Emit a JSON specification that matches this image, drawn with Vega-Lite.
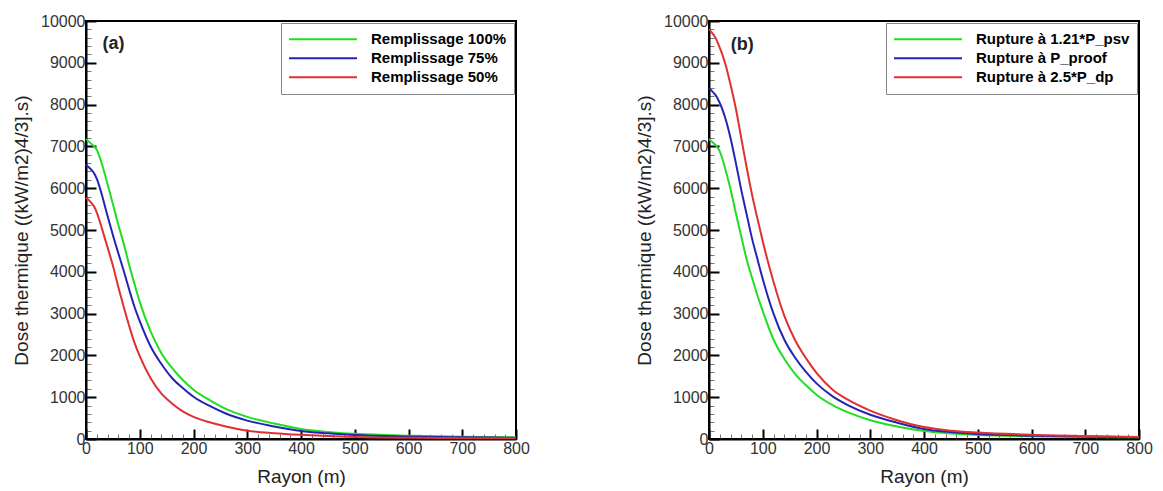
{
  "$schema": "https://vega.github.io/schema/vega-lite/v6.json",
  "background": "white",
  "padding": {"left": 11, "top": 12, "right": 5, "bottom": 5},
  "spacing": 103,
  "datasets": {
    "a": [
      {"serie": "Remplissage 100%", "r": 0, "v": 7180}, {"serie": "Remplissage 100%", "r": 5, "v": 7120}, {"serie": "Remplissage 100%", "r": 10, "v": 7060}, {"serie": "Remplissage 100%", "r": 15, "v": 7000}, {"serie": "Remplissage 100%", "r": 20, "v": 6920}, {"serie": "Remplissage 100%", "r": 25, "v": 6760}, {"serie": "Remplissage 100%", "r": 30, "v": 6560}, {"serie": "Remplissage 100%", "r": 40, "v": 6100}, {"serie": "Remplissage 100%", "r": 50, "v": 5620}, {"serie": "Remplissage 100%", "r": 60, "v": 5130}, {"serie": "Remplissage 100%", "r": 70, "v": 4680}, {"serie": "Remplissage 100%", "r": 80, "v": 4180}, {"serie": "Remplissage 100%", "r": 90, "v": 3720}, {"serie": "Remplissage 100%", "r": 100, "v": 3280}, {"serie": "Remplissage 100%", "r": 120, "v": 2580}, {"serie": "Remplissage 100%", "r": 140, "v": 2060}, {"serie": "Remplissage 100%", "r": 160, "v": 1700}, {"serie": "Remplissage 100%", "r": 180, "v": 1410}, {"serie": "Remplissage 100%", "r": 200, "v": 1180}, {"serie": "Remplissage 100%", "r": 230, "v": 930}, {"serie": "Remplissage 100%", "r": 260, "v": 720}, {"serie": "Remplissage 100%", "r": 300, "v": 530}, {"serie": "Remplissage 100%", "r": 350, "v": 370}, {"serie": "Remplissage 100%", "r": 400, "v": 240}, {"serie": "Remplissage 100%", "r": 450, "v": 170}, {"serie": "Remplissage 100%", "r": 500, "v": 125}, {"serie": "Remplissage 100%", "r": 600, "v": 80}, {"serie": "Remplissage 100%", "r": 700, "v": 55}, {"serie": "Remplissage 100%", "r": 800, "v": 40},
      {"serie": "Remplissage 75%", "r": 0, "v": 6560}, {"serie": "Remplissage 75%", "r": 5, "v": 6500}, {"serie": "Remplissage 75%", "r": 10, "v": 6440}, {"serie": "Remplissage 75%", "r": 15, "v": 6360}, {"serie": "Remplissage 75%", "r": 20, "v": 6230}, {"serie": "Remplissage 75%", "r": 25, "v": 6040}, {"serie": "Remplissage 75%", "r": 30, "v": 5820}, {"serie": "Remplissage 75%", "r": 40, "v": 5340}, {"serie": "Remplissage 75%", "r": 50, "v": 4880}, {"serie": "Remplissage 75%", "r": 60, "v": 4450}, {"serie": "Remplissage 75%", "r": 70, "v": 4030}, {"serie": "Remplissage 75%", "r": 80, "v": 3590}, {"serie": "Remplissage 75%", "r": 90, "v": 3170}, {"serie": "Remplissage 75%", "r": 100, "v": 2820}, {"serie": "Remplissage 75%", "r": 120, "v": 2220}, {"serie": "Remplissage 75%", "r": 140, "v": 1800}, {"serie": "Remplissage 75%", "r": 160, "v": 1460}, {"serie": "Remplissage 75%", "r": 180, "v": 1220}, {"serie": "Remplissage 75%", "r": 200, "v": 1010}, {"serie": "Remplissage 75%", "r": 230, "v": 790}, {"serie": "Remplissage 75%", "r": 260, "v": 610}, {"serie": "Remplissage 75%", "r": 300, "v": 440}, {"serie": "Remplissage 75%", "r": 350, "v": 300}, {"serie": "Remplissage 75%", "r": 400, "v": 190}, {"serie": "Remplissage 75%", "r": 450, "v": 135}, {"serie": "Remplissage 75%", "r": 500, "v": 95}, {"serie": "Remplissage 75%", "r": 600, "v": 60}, {"serie": "Remplissage 75%", "r": 700, "v": 40}, {"serie": "Remplissage 75%", "r": 800, "v": 30},
      {"serie": "Remplissage 50%", "r": 0, "v": 5770}, {"serie": "Remplissage 50%", "r": 5, "v": 5720}, {"serie": "Remplissage 50%", "r": 10, "v": 5650}, {"serie": "Remplissage 50%", "r": 15, "v": 5560}, {"serie": "Remplissage 50%", "r": 20, "v": 5420}, {"serie": "Remplissage 50%", "r": 25, "v": 5230}, {"serie": "Remplissage 50%", "r": 30, "v": 5020}, {"serie": "Remplissage 50%", "r": 40, "v": 4590}, {"serie": "Remplissage 50%", "r": 50, "v": 4150}, {"serie": "Remplissage 50%", "r": 60, "v": 3640}, {"serie": "Remplissage 50%", "r": 70, "v": 3170}, {"serie": "Remplissage 50%", "r": 80, "v": 2720}, {"serie": "Remplissage 50%", "r": 90, "v": 2310}, {"serie": "Remplissage 50%", "r": 100, "v": 1980}, {"serie": "Remplissage 50%", "r": 120, "v": 1460}, {"serie": "Remplissage 50%", "r": 140, "v": 1090}, {"serie": "Remplissage 50%", "r": 160, "v": 850}, {"serie": "Remplissage 50%", "r": 180, "v": 660}, {"serie": "Remplissage 50%", "r": 200, "v": 530}, {"serie": "Remplissage 50%", "r": 230, "v": 400}, {"serie": "Remplissage 50%", "r": 260, "v": 300}, {"serie": "Remplissage 50%", "r": 300, "v": 200}, {"serie": "Remplissage 50%", "r": 350, "v": 140}, {"serie": "Remplissage 50%", "r": 400, "v": 100}, {"serie": "Remplissage 50%", "r": 450, "v": 70}, {"serie": "Remplissage 50%", "r": 500, "v": 50}, {"serie": "Remplissage 50%", "r": 600, "v": 30}, {"serie": "Remplissage 50%", "r": 700, "v": 20}, {"serie": "Remplissage 50%", "r": 800, "v": 15}
    ],
    "b": [
      {"serie": "Rupture à 1.21*P_psv", "r": 0, "v": 7180}, {"serie": "Rupture à 1.21*P_psv", "r": 5, "v": 7120}, {"serie": "Rupture à 1.21*P_psv", "r": 10, "v": 7060}, {"serie": "Rupture à 1.21*P_psv", "r": 15, "v": 6990}, {"serie": "Rupture à 1.21*P_psv", "r": 20, "v": 6880}, {"serie": "Rupture à 1.21*P_psv", "r": 25, "v": 6700}, {"serie": "Rupture à 1.21*P_psv", "r": 30, "v": 6470}, {"serie": "Rupture à 1.21*P_psv", "r": 40, "v": 5980}, {"serie": "Rupture à 1.21*P_psv", "r": 50, "v": 5400}, {"serie": "Rupture à 1.21*P_psv", "r": 60, "v": 4850}, {"serie": "Rupture à 1.21*P_psv", "r": 70, "v": 4300}, {"serie": "Rupture à 1.21*P_psv", "r": 80, "v": 3860}, {"serie": "Rupture à 1.21*P_psv", "r": 90, "v": 3440}, {"serie": "Rupture à 1.21*P_psv", "r": 100, "v": 3060}, {"serie": "Rupture à 1.21*P_psv", "r": 120, "v": 2380}, {"serie": "Rupture à 1.21*P_psv", "r": 140, "v": 1920}, {"serie": "Rupture à 1.21*P_psv", "r": 160, "v": 1560}, {"serie": "Rupture à 1.21*P_psv", "r": 180, "v": 1290}, {"serie": "Rupture à 1.21*P_psv", "r": 200, "v": 1060}, {"serie": "Rupture à 1.21*P_psv", "r": 230, "v": 810}, {"serie": "Rupture à 1.21*P_psv", "r": 260, "v": 630}, {"serie": "Rupture à 1.21*P_psv", "r": 300, "v": 450}, {"serie": "Rupture à 1.21*P_psv", "r": 350, "v": 300}, {"serie": "Rupture à 1.21*P_psv", "r": 400, "v": 190}, {"serie": "Rupture à 1.21*P_psv", "r": 450, "v": 130}, {"serie": "Rupture à 1.21*P_psv", "r": 500, "v": 95}, {"serie": "Rupture à 1.21*P_psv", "r": 600, "v": 65}, {"serie": "Rupture à 1.21*P_psv", "r": 700, "v": 50}, {"serie": "Rupture à 1.21*P_psv", "r": 800, "v": 40},
      {"serie": "Rupture à P_proof", "r": 0, "v": 8390}, {"serie": "Rupture à P_proof", "r": 5, "v": 8330}, {"serie": "Rupture à P_proof", "r": 10, "v": 8260}, {"serie": "Rupture à P_proof", "r": 15, "v": 8170}, {"serie": "Rupture à P_proof", "r": 20, "v": 8040}, {"serie": "Rupture à P_proof", "r": 25, "v": 7880}, {"serie": "Rupture à P_proof", "r": 30, "v": 7690}, {"serie": "Rupture à P_proof", "r": 40, "v": 7200}, {"serie": "Rupture à P_proof", "r": 50, "v": 6600}, {"serie": "Rupture à P_proof", "r": 60, "v": 5960}, {"serie": "Rupture à P_proof", "r": 70, "v": 5380}, {"serie": "Rupture à P_proof", "r": 80, "v": 4800}, {"serie": "Rupture à P_proof", "r": 90, "v": 4310}, {"serie": "Rupture à P_proof", "r": 100, "v": 3830}, {"serie": "Rupture à P_proof", "r": 120, "v": 3000}, {"serie": "Rupture à P_proof", "r": 140, "v": 2380}, {"serie": "Rupture à P_proof", "r": 160, "v": 1950}, {"serie": "Rupture à P_proof", "r": 180, "v": 1610}, {"serie": "Rupture à P_proof", "r": 200, "v": 1330}, {"serie": "Rupture à P_proof", "r": 230, "v": 1020}, {"serie": "Rupture à P_proof", "r": 260, "v": 800}, {"serie": "Rupture à P_proof", "r": 300, "v": 580}, {"serie": "Rupture à P_proof", "r": 350, "v": 390}, {"serie": "Rupture à P_proof", "r": 400, "v": 240}, {"serie": "Rupture à P_proof", "r": 450, "v": 165}, {"serie": "Rupture à P_proof", "r": 500, "v": 120}, {"serie": "Rupture à P_proof", "r": 600, "v": 80}, {"serie": "Rupture à P_proof", "r": 700, "v": 60}, {"serie": "Rupture à P_proof", "r": 800, "v": 45},
      {"serie": "Rupture à 2.5*P_dp", "r": 0, "v": 9800}, {"serie": "Rupture à 2.5*P_dp", "r": 5, "v": 9730}, {"serie": "Rupture à 2.5*P_dp", "r": 10, "v": 9640}, {"serie": "Rupture à 2.5*P_dp", "r": 15, "v": 9520}, {"serie": "Rupture à 2.5*P_dp", "r": 20, "v": 9360}, {"serie": "Rupture à 2.5*P_dp", "r": 25, "v": 9190}, {"serie": "Rupture à 2.5*P_dp", "r": 30, "v": 8990}, {"serie": "Rupture à 2.5*P_dp", "r": 40, "v": 8480}, {"serie": "Rupture à 2.5*P_dp", "r": 50, "v": 7900}, {"serie": "Rupture à 2.5*P_dp", "r": 60, "v": 7200}, {"serie": "Rupture à 2.5*P_dp", "r": 70, "v": 6500}, {"serie": "Rupture à 2.5*P_dp", "r": 80, "v": 5850}, {"serie": "Rupture à 2.5*P_dp", "r": 90, "v": 5280}, {"serie": "Rupture à 2.5*P_dp", "r": 100, "v": 4730}, {"serie": "Rupture à 2.5*P_dp", "r": 120, "v": 3760}, {"serie": "Rupture à 2.5*P_dp", "r": 140, "v": 2950}, {"serie": "Rupture à 2.5*P_dp", "r": 160, "v": 2370}, {"serie": "Rupture à 2.5*P_dp", "r": 180, "v": 1940}, {"serie": "Rupture à 2.5*P_dp", "r": 200, "v": 1580}, {"serie": "Rupture à 2.5*P_dp", "r": 230, "v": 1180}, {"serie": "Rupture à 2.5*P_dp", "r": 260, "v": 930}, {"serie": "Rupture à 2.5*P_dp", "r": 300, "v": 680}, {"serie": "Rupture à 2.5*P_dp", "r": 350, "v": 450}, {"serie": "Rupture à 2.5*P_dp", "r": 400, "v": 285}, {"serie": "Rupture à 2.5*P_dp", "r": 450, "v": 200}, {"serie": "Rupture à 2.5*P_dp", "r": 500, "v": 155}, {"serie": "Rupture à 2.5*P_dp", "r": 600, "v": 100}, {"serie": "Rupture à 2.5*P_dp", "r": 700, "v": 70}, {"serie": "Rupture à 2.5*P_dp", "r": 800, "v": 50}
    ]
  },
  "config": {
    "font": "Liberation Sans",
    "view": {"stroke": "#000", "strokeWidth": 2},
    "axis": {
      "grid": false,
      "domainColor": "#000",
      "domainWidth": 2,
      "labelFont": "Liberation Sans",
      "labelFontSize": 16,
      "labelColor": "#333",
      "labelFlush": false,
      "labelOverlap": false,
      "labelBound": false,
      "titleFont": "Liberation Sans",
      "titleFontSize": 19,
      "titleFontWeight": "normal",
      "titleColor": "#222",
      "format": "d",
      "tickCount": 200
    },
    "legend": {
      "orient": "top-right",
      "offset": 2,
      "title": null,
      "symbolType": "stroke",
      "symbolSize": 4624,
      "symbolStrokeWidth": 2,
      "labelFont": "Liberation Sans",
      "labelFontSize": 15,
      "labelFontWeight": "bold",
      "labelColor": "#000",
      "labelOffset": 13,
      "strokeColor": "#888",
      "fillColor": "white",
      "padding": 7,
      "clipHeight": 18.5,
      "rowPadding": 0
    }
  },
  "resolve": {"scale": {"color": "independent"}, "legend": {"color": "independent"}},
  "hconcat": [
    {
      "width": 430,
      "height": 418,
      "layer": [
        {
          "data": {"name": "a"},
          "mark": {"type": "line", "strokeWidth": 2, "interpolate": "monotone"},
          "encoding": {
            "x": {"field": "r", "type": "quantitative", "scale": {"domain": [0, 800], "nice": false},
              "axis": {"title": "Rayon (m)", "tickCount": 200, "values": [0,20,40,60,80,100,120,140,160,180,200,220,240,260,280,300,320,340,360,380,400,420,440,460,480,500,520,540,560,580,600,620,640,660,680,700,720,740,760,780,800],
                "labelExpr": "datum.value % 100 === 0 ? datum.label : ''",
                "tickSize": {"condition": {"test": "datum.value % 100 === 0", "value": -10}, "value": -5},
                "tickWidth": {"condition": {"test": "datum.value % 100 === 0", "value": 2}, "value": 1},
                "tickColor": {"condition": {"test": "datum.value % 100 === 0", "value": "#000"}, "value": "#777"},
                "labelPadding": 11, "titlePadding": 6}},
            "y": {"field": "v", "type": "quantitative", "scale": {"domain": [0, 10000], "nice": false},
              "axis": {"title": "Dose thermique ((kW/m2)4/3].s)", "tickCount": 200, "values": [0,200,400,600,800,1000,1200,1400,1600,1800,2000,2200,2400,2600,2800,3000,3200,3400,3600,3800,4000,4200,4400,4600,4800,5000,5200,5400,5600,5800,6000,6200,6400,6600,6800,7000,7200,7400,7600,7800,8000,8200,8400,8600,8800,9000,9200,9400,9600,9800,10000],
                "labelExpr": "datum.value % 1000 === 0 ? datum.label : ''",
                "tickSize": {"condition": {"test": "datum.value % 1000 === 0", "value": -10}, "value": -5},
                "tickWidth": {"condition": {"test": "datum.value % 1000 === 0", "value": 2}, "value": 1},
                "tickColor": {"condition": {"test": "datum.value % 1000 === 0", "value": "#000"}, "value": "#777"},
                "labelPadding": 11, "titlePadding": 9}},
            "color": {"field": "serie", "type": "nominal", "sort": null,
              "scale": {"domain": ["Remplissage 100%", "Remplissage 75%", "Remplissage 50%"], "range": ["#22dd22", "#2424b4", "#e03030"]}}
          }
        },
        {
          "data": {"values": [{"label": "(a)"}]},
          "mark": {"type": "text", "font": "Liberation Sans", "fontSize": 18, "fontWeight": "bold", "color": "#222", "align": "center", "baseline": "middle"},
          "encoding": {"x": {"datum": 51}, "y": {"datum": 9450}, "text": {"field": "label"}}
        }
      ]
    },
    {
      "width": 430,
      "height": 418,
      "layer": [
        {
          "data": {"name": "b"},
          "mark": {"type": "line", "strokeWidth": 2, "interpolate": "monotone"},
          "encoding": {
            "x": {"field": "r", "type": "quantitative", "scale": {"domain": [0, 800], "nice": false},
              "axis": {"title": "Rayon (m)", "tickCount": 200, "values": [0,20,40,60,80,100,120,140,160,180,200,220,240,260,280,300,320,340,360,380,400,420,440,460,480,500,520,540,560,580,600,620,640,660,680,700,720,740,760,780,800],
                "labelExpr": "datum.value % 100 === 0 ? datum.label : ''",
                "tickSize": {"condition": {"test": "datum.value % 100 === 0", "value": -10}, "value": -5},
                "tickWidth": {"condition": {"test": "datum.value % 100 === 0", "value": 2}, "value": 1},
                "tickColor": {"condition": {"test": "datum.value % 100 === 0", "value": "#000"}, "value": "#777"},
                "labelPadding": 11, "titlePadding": 6}},
            "y": {"field": "v", "type": "quantitative", "scale": {"domain": [0, 10000], "nice": false},
              "axis": {"title": "Dose thermique ((kW/m2)4/3].s)", "tickCount": 200, "values": [0,200,400,600,800,1000,1200,1400,1600,1800,2000,2200,2400,2600,2800,3000,3200,3400,3600,3800,4000,4200,4400,4600,4800,5000,5200,5400,5600,5800,6000,6200,6400,6600,6800,7000,7200,7400,7600,7800,8000,8200,8400,8600,8800,9000,9200,9400,9600,9800,10000],
                "labelExpr": "datum.value % 1000 === 0 ? datum.label : ''",
                "tickSize": {"condition": {"test": "datum.value % 1000 === 0", "value": -10}, "value": -5},
                "tickWidth": {"condition": {"test": "datum.value % 1000 === 0", "value": 2}, "value": 1},
                "tickColor": {"condition": {"test": "datum.value % 1000 === 0", "value": "#000"}, "value": "#777"},
                "labelPadding": 11, "titlePadding": 9}},
            "color": {"field": "serie", "type": "nominal", "sort": null,
              "scale": {"domain": ["Rupture à 1.21*P_psv", "Rupture à P_proof", "Rupture à 2.5*P_dp"], "range": ["#22dd22", "#2424b4", "#e03030"]}}
          }
        },
        {
          "data": {"values": [{"label": "(b)"}]},
          "mark": {"type": "text", "font": "Liberation Sans", "fontSize": 18, "fontWeight": "bold", "color": "#222", "align": "center", "baseline": "middle"},
          "encoding": {"x": {"datum": 62}, "y": {"datum": 9425}, "text": {"field": "label"}}
        }
      ]
    }
  ]
}
